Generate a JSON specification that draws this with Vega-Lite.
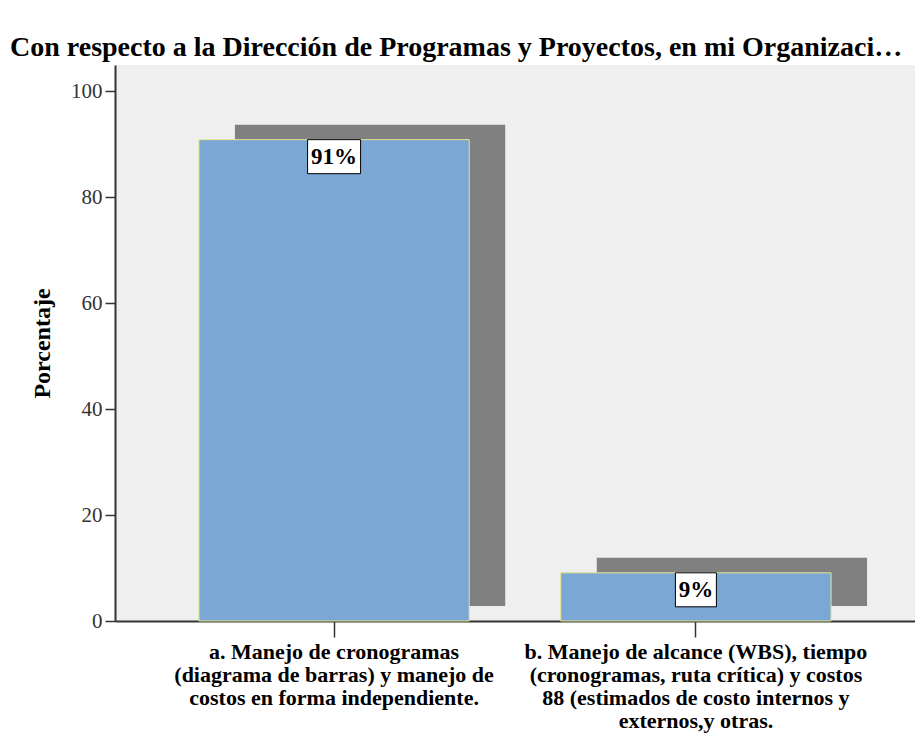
{
  "$schema": "https://vega.github.io/schema/vega-lite/v6.json",
  "width": 800,
  "height": 556,
  "autosize": {"type": "none"},
  "padding": {"left": 115, "top": 65, "right": 0, "bottom": 117},
  "background": "white",
  "title": {
    "text": "Con respecto a la Dirección de Programas y Proyectos, en mi Organizaci…",
    "anchor": "start",
    "frame": "group",
    "dx": -105,
    "offset": 3,
    "font": "Liberation Serif",
    "fontSize": 28,
    "fontWeight": "bold",
    "color": "black"
  },
  "config": {
    "view": {"fill": "#efefef", "stroke": null}
  },
  "data": {
    "values": [
      {"categoria": "a. Manejo de cronogramas\n(diagrama de barras) y manejo de\ncostos en forma independiente.", "porcentaje": 90.9, "etiqueta": "91%"},
      {"categoria": "b. Manejo de alcance (WBS), tiempo\n(cronogramas, ruta crítica) y costos\n88 (estimados de costo internos y\nexternos,y otras.", "porcentaje": 9.1, "etiqueta": "9%"}
    ]
  },
  "encoding": {
    "x": {
      "field": "categoria",
      "type": "nominal",
      "sort": null,
      "scale": {"paddingInner": 0.253, "paddingOuter": 0.232},
      "axis": {
        "title": null,
        "labelExpr": "split(datum.label, '\\n')",
        "labelFont": "Liberation Serif",
        "labelFontWeight": "bold",
        "labelFontSize": 22,
        "labelColor": "black",
        "labelLineHeight": 23,
        "labelAngle": 0,
        "labelLimit": 500,
        "labelPadding": 4,
        "tickSize": 16,
        "tickColor": "#333333",
        "tickWidth": 1.5,
        "domainColor": "#333333",
        "domainWidth": 2
      }
    },
    "y": {
      "field": "porcentaje",
      "type": "quantitative",
      "scale": {"domain": [0, 105], "nice": false},
      "axis": {
        "values": [0, 20, 40, 60, 80, 100],
        "grid": false,
        "title": "Porcentaje",
        "titleFont": "Liberation Serif",
        "titleFontWeight": "bold",
        "titleFontSize": 24,
        "titleColor": "black",
        "titlePadding": 16,
        "labelFont": "Liberation Serif",
        "labelFontSize": 21,
        "labelColor": "#333333",
        "labelPadding": 3,
        "tickSize": 10,
        "tickColor": "#333333",
        "tickWidth": 1.5,
        "domainColor": "#333333",
        "domainWidth": 2
      }
    }
  },
  "layer": [
    {
      "mark": {"type": "bar", "color": "#808080", "xOffset": 36, "yOffset": -15, "y2Offset": -15}
    },
    {
      "mark": {"type": "bar", "fill": "#7aa7d4", "stroke": "#e6e68a", "strokeWidth": 1}
    },
    {
      "transform": [{"filter": "datum.etiqueta == '91%'"}],
      "mark": {"type": "bar", "width": 53, "fill": "white", "stroke": "black", "strokeWidth": 1, "y2Offset": 34},
      "encoding": {"y2": {"field": "porcentaje"}}
    },
    {
      "transform": [{"filter": "datum.etiqueta == '9%'"}],
      "mark": {"type": "bar", "width": 41, "fill": "white", "stroke": "black", "strokeWidth": 1, "y2Offset": 34},
      "encoding": {"y2": {"field": "porcentaje"}}
    },
    {
      "mark": {"type": "text", "baseline": "middle", "dy": 17, "font": "Liberation Serif", "fontWeight": "bold", "fontSize": 23, "color": "black"},
      "encoding": {"text": {"field": "etiqueta"}}
    }
  ]
}
